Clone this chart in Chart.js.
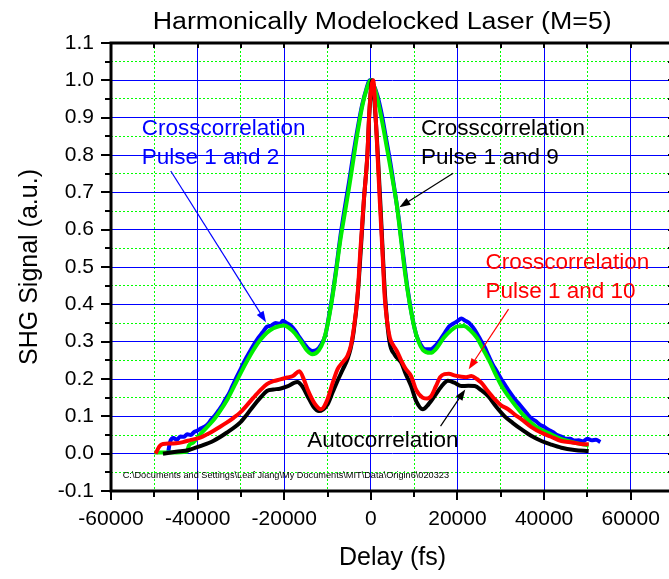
<!DOCTYPE html>
<html>
<head>
<meta charset="utf-8">
<script src="https://cdn.jsdelivr.net/npm/chart.js@4/dist/chart.umd.min.js"></script>
<style>
  body { margin: 0; background: #fff; overflow: hidden; }
  #wrap { width: 669px; height: 579px; overflow: hidden; }
</style>
</head>
<body>
<div id="wrap"><canvas id="laserChart" width="690" height="579"></canvas></div>
<script>
// Crosscorrelation pulse 1 and 2 (blue)
const delayBlue = [-46800,-46400,-45600,-44800,-44000,-43200,-42400,-41600,-40800,-40000,-39200,-38400,-37600,-36800,-36000,-35200,-34400,-33600,-32800,-32000,-31000,-30000,-29000,-28000,-27000,-26000,-25000,-24000,-23000,-22000,-21000,-20300,-19500,-18500,-17500,-16500,-15500,-14500,-13500,-12500,-11500,-10500,-9800,-9000,-8000,-7000,-6000,-5000,-4000,-3000,-2000,-1000,-300,500,1500,2500,3500,4500,5500,6500,7500,8500,9500,10500,11500,12500,13800,15000,16000,17000,18000,19000,20000,20900,21800,22700,23600,24500,25400,26300,27200,28100,29000,30000,31000,32000,33000,34000,35000,36000,37000,38000,39000,40000,41000,42000,43000,44000,45000,46000,47000,48000,49000,50000,51000,52000,53000];
const signalBlue = [0.003,0.03,0.042,0.037,0.046,0.045,0.052,0.05,0.058,0.062,0.068,0.072,0.08,0.092,0.102,0.115,0.128,0.145,0.16,0.18,0.205,0.228,0.252,0.272,0.292,0.31,0.325,0.34,0.343,0.35,0.348,0.356,0.35,0.343,0.33,0.312,0.296,0.282,0.275,0.278,0.292,0.318,0.36,0.415,0.495,0.585,0.66,0.73,0.805,0.875,0.935,0.978,1.0,0.99,0.96,0.91,0.845,0.78,0.705,0.625,0.53,0.44,0.37,0.318,0.292,0.28,0.28,0.29,0.305,0.322,0.34,0.348,0.355,0.362,0.356,0.35,0.338,0.322,0.303,0.285,0.262,0.24,0.222,0.202,0.184,0.166,0.15,0.136,0.122,0.108,0.095,0.088,0.078,0.072,0.064,0.058,0.05,0.046,0.04,0.04,0.035,0.036,0.033,0.04,0.036,0.037,0.031];

// Crosscorrelation pulse 1 and 9 (green)
const delayGreen = [-50000,-46000,-42500,-42000,-41000,-39400,-37500,-36000,-34500,-33000,-31500,-30000,-28500,-27000,-25500,-24000,-22500,-21000,-20000,-19000,-17500,-16000,-14800,-13500,-12000,-11000,-10000,-9000,-8000,-7000,-6000,-5000,-4000,-3000,-2000,-1000,0,1000,2000,3000,4000,5000,6000,7000,8000,9000,10000,11000,12000,13800,15000,16900,18500,20000,21500,23000,24500,26000,27500,29000,30500,32000,33500,35000,37000,39000,41000,43000,45500,48000,50300];
const signalGreen = [0.003,0.003,0.005,0.022,0.03,0.052,0.075,0.095,0.12,0.148,0.182,0.217,0.25,0.28,0.305,0.324,0.336,0.342,0.343,0.338,0.322,0.298,0.277,0.266,0.277,0.3,0.345,0.41,0.49,0.575,0.645,0.715,0.79,0.865,0.93,0.975,1.0,0.975,0.925,0.865,0.8,0.735,0.665,0.57,0.475,0.4,0.34,0.3,0.278,0.27,0.28,0.311,0.33,0.341,0.342,0.33,0.31,0.278,0.245,0.208,0.175,0.15,0.127,0.106,0.083,0.066,0.055,0.044,0.034,0.027,0.022];

// Crosscorrelation pulse 1 and 10 (red)
const delayRed = [-49700,-48800,-48000,-46500,-45000,-43400,-41500,-39400,-37800,-36400,-34800,-33300,-31700,-30200,-28600,-27100,-25500,-24000,-22500,-20900,-19300,-18000,-16500,-15500,-14600,-13000,-11500,-10000,-8800,-7700,-6500,-5400,-4600,-4000,-3100,-2400,-1600,-800,-400,80,550,1100,1600,2100,2650,3200,3700,4400,5200,6000,7000,8000,9300,10500,12000,13000,13900,15000,16000,17000,18000,19500,20900,22000,23200,24500,25500,27000,28600,30000,31700,33300,34800,37000,39400,41500,44000,46500,48500,50300];
const signalRed = [0.0,0.02,0.026,0.027,0.028,0.031,0.037,0.043,0.052,0.061,0.072,0.083,0.096,0.11,0.13,0.15,0.17,0.186,0.194,0.199,0.204,0.208,0.221,0.2,0.172,0.135,0.119,0.146,0.19,0.226,0.245,0.262,0.29,0.33,0.42,0.548,0.681,0.8,0.905,0.98,1.0,0.905,0.788,0.67,0.548,0.42,0.36,0.31,0.29,0.275,0.25,0.228,0.208,0.17,0.15,0.148,0.154,0.18,0.205,0.213,0.214,0.209,0.206,0.205,0.208,0.2,0.19,0.168,0.146,0.13,0.119,0.104,0.092,0.072,0.056,0.046,0.034,0.03,0.026,0.025];

// Autocorrelation (black)
const delayBlack = [-48000,-45000,-42000,-39400,-36400,-33300,-30200,-28600,-27100,-25500,-24000,-22500,-21000,-19300,-17000,-15800,-14600,-13200,-12000,-10000,-8800,-7700,-6500,-5400,-4700,-4000,-3000,-2300,-1600,-800,-400,300,1100,1700,2200,2700,3300,4300,5500,7000,8000,9300,10500,12000,13000,14700,16300,17800,19300,20900,22500,24000,25500,27100,29000,30900,32800,34800,37000,39400,41500,44000,47000,50300];
const signalBlack = [0.0,0.005,0.01,0.02,0.034,0.056,0.083,0.105,0.128,0.15,0.168,0.172,0.174,0.18,0.192,0.18,0.154,0.125,0.114,0.132,0.165,0.195,0.225,0.253,0.28,0.324,0.43,0.55,0.68,0.8,0.9,1.0,0.9,0.78,0.67,0.55,0.42,0.3,0.265,0.244,0.215,0.181,0.14,0.119,0.128,0.154,0.18,0.195,0.19,0.181,0.182,0.181,0.17,0.154,0.125,0.1,0.082,0.065,0.048,0.034,0.025,0.016,0.01,0.007];

// axis ranges
const xMin = -60000, xMax = 70000, xStep = 10000, xLabelStep = 20000;
const yMin = -0.1, yMax = 1.1, yStep = 0.05;

const FONT = "'Liberation Sans', Arial, Helvetica, sans-serif";

// text labels with arrows, anchored in data coordinates
const notes = [
  { lines: ["Crosscorrelation", "Pulse 1 and 2"], color: "#0000ff", x: -52900, y: 0.869,
    arrow: { from: [-46200, 0.757], to: [-24200, 0.352] } },
  { lines: ["Crosscorrelation", "Pulse 1 and 9"], color: "#000000", x: 11600, y: 0.869,
    arrow: { from: [19000, 0.751], to: [6600, 0.66] } },
  { lines: ["Crosscorrelation", "Pulse 1 and 10"], color: "#ff0000", x: 26450, y: 0.512,
    arrow: { from: [31800, 0.387], to: [22600, 0.226] } },
  { lines: ["Autocorrelation"], color: "#000000", x: -14700, y: 0.034,
    arrow: { from: [16100, 0.074], to: [21800, 0.172] } }
];
const filePath = "C:\\Documents and Settings\\Leaf Jiang\\My Documents\\MIT\\Data\\Origin6\\020323";

function pts(xs, ys) {
  return xs.map((v, i) => ({ x: v, y: ys[i] }));
}

function isMajorY(v) {
  return Math.abs(Math.round(v * 10) - v * 10) < 1e-6;
}

// frame, tick marks, title, notes
const decorPlugin = {
  id: "decor",
  afterDatasetsDraw(chart) {
    const { ctx, chartArea: a, scales: { x, y } } = chart;
    ctx.save();
    ctx.strokeStyle = "#000";
    ctx.lineWidth = 2;
    ctx.beginPath();
    x.ticks.forEach(t => {
      const px = Math.round(x.getPixelForValue(t.value));
      const major = t.value % xLabelStep === 0;
      ctx.moveTo(px, a.bottom);
      ctx.lineTo(px, a.bottom + (major ? 9 : 6));
      ctx.moveTo(px, a.top);
      ctx.lineTo(px, a.top + 5);
    });
    y.ticks.forEach(t => {
      const py = Math.round(y.getPixelForValue(t.value));
      const major = isMajorY(t.value);
      ctx.moveTo(a.left, py);
      ctx.lineTo(a.left - (major ? 10 : 6), py);
      ctx.moveTo(a.right, py);
      ctx.lineTo(a.right - 6, py);
    });
    ctx.stroke();
    ctx.lineWidth = 3;
    ctx.strokeRect(a.left, a.top, a.right - a.left, a.bottom - a.top);

    // notes
    ctx.font = "22.5px " + FONT;
    ctx.textBaseline = "middle";
    ctx.textAlign = "left";
    notes.forEach(n => {
      ctx.fillStyle = n.color;
      const px = x.getPixelForValue(n.x);
      const py = y.getPixelForValue(n.y);
      n.lines.forEach((s, i) => ctx.fillText(s, px, py + i * 29));
      const x0 = x.getPixelForValue(n.arrow.from[0]), y0 = y.getPixelForValue(n.arrow.from[1]);
      const x1 = x.getPixelForValue(n.arrow.to[0]), y1 = y.getPixelForValue(n.arrow.to[1]);
      const ang = Math.atan2(y1 - y0, x1 - x0);
      ctx.strokeStyle = n.color;
      ctx.lineWidth = 1.2;
      ctx.beginPath();
      ctx.moveTo(x0, y0);
      ctx.lineTo(x1 - 6 * Math.cos(ang), y1 - 6 * Math.sin(ang));
      ctx.stroke();
      ctx.beginPath();
      ctx.moveTo(x1, y1);
      ctx.lineTo(x1 - 11 * Math.cos(ang) + 4 * Math.sin(ang), y1 - 11 * Math.sin(ang) - 4 * Math.cos(ang));
      ctx.lineTo(x1 - 11 * Math.cos(ang) - 4 * Math.sin(ang), y1 - 11 * Math.sin(ang) + 4 * Math.cos(ang));
      ctx.closePath();
      ctx.fill();
    });

    ctx.fillStyle = "#000";
    ctx.font = "9.2px " + FONT;
    ctx.fillText(filePath, x.getPixelForValue(-57300), y.getPixelForValue(-0.058));

    // chart title, stretched a little wider like the original
    const title = "Harmonically Modelocked Laser (M=5)";
    ctx.font = "23px " + FONT;
    ctx.textAlign = "left";
    ctx.textBaseline = "alphabetic";
    const w = ctx.measureText(title).width;
    const sx = 459 / w;
    ctx.translate(152.7, 28.5);
    ctx.scale(sx, 1);
    ctx.fillText(title, 0, 0);
    ctx.restore();
  }
};

const lineStyle = { borderWidth: 4, pointRadius: 0, fill: false, cubicInterpolationMode: "monotone" };

new Chart(document.getElementById("laserChart"), {
  type: "line",
  data: {
    datasets: [
      Object.assign({ label: "Crosscorrelation Pulse 1 and 2", data: pts(delayBlue, signalBlue), borderColor: "#0000ff", order: 4 }, lineStyle),
      Object.assign({ label: "Crosscorrelation Pulse 1 and 9", data: pts(delayGreen, signalGreen), borderColor: "#00ee00", order: 3 }, lineStyle),
      Object.assign({ label: "Autocorrelation", data: pts(delayBlack, signalBlack), borderColor: "#000000", order: 2 }, lineStyle),
      Object.assign({ label: "Crosscorrelation Pulse 1 and 10", data: pts(delayRed, signalRed), borderColor: "#ff0000", order: 1 }, lineStyle)
    ]
  },
  options: {
    responsive: false,
    animation: false,
    layout: { padding: { top: 43, right: 16, left: 0, bottom: 0 } },
    plugins: { legend: { display: false }, tooltip: { enabled: false } },
    scales: {
      x: {
        type: "linear",
        min: xMin, max: xMax,
        afterFit: s => { s.height = 88; },
        border: {
          display: false,
          dash: c => (c.tick && c.tick.value % xLabelStep !== 0) ? [2, 2] : []
        },
        grid: {
          drawTicks: false,
          lineWidth: 1,
          color: c => (c.tick && c.tick.value % xLabelStep === 0) ? "#0000ff" : "#00ff00"
        },
        ticks: {
          stepSize: xStep,
          autoSkip: false,
          maxRotation: 0,
          padding: 16,
          color: "#000",
          font: { family: FONT, size: 21 },
          callback: v => (v % xLabelStep === 0 && v <= 60000) ? String(v) : ""
        },
        title: {
          display: true, text: "Delay (fs)", color: "#000",
          font: { family: FONT, size: 25 }, padding: { top: 0, bottom: 6 }
        }
      },
      y: {
        type: "linear",
        min: yMin, max: yMax,
        afterFit: s => { s.width = 111; },
        border: {
          display: false,
          dash: c => (c.tick && !isMajorY(c.tick.value)) ? [2, 2] : []
        },
        grid: {
          drawTicks: false,
          lineWidth: 1,
          color: c => (c.tick && isMajorY(c.tick.value)) ? "#0000ff" : "#00ff00"
        },
        ticks: {
          stepSize: yStep,
          autoSkip: false,
          padding: 17,
          color: "#000",
          font: { family: FONT, size: 21 },
          callback: v => isMajorY(v) ? v.toFixed(1) : ""
        },
        title: {
          display: true, text: "SHG Signal (a.u.)", color: "#000",
          font: { family: FONT, size: 25 }, padding: { top: 15, bottom: 0 }
        }
      }
    }
  },
  plugins: [decorPlugin]
});
</script>
</body>
</html>
